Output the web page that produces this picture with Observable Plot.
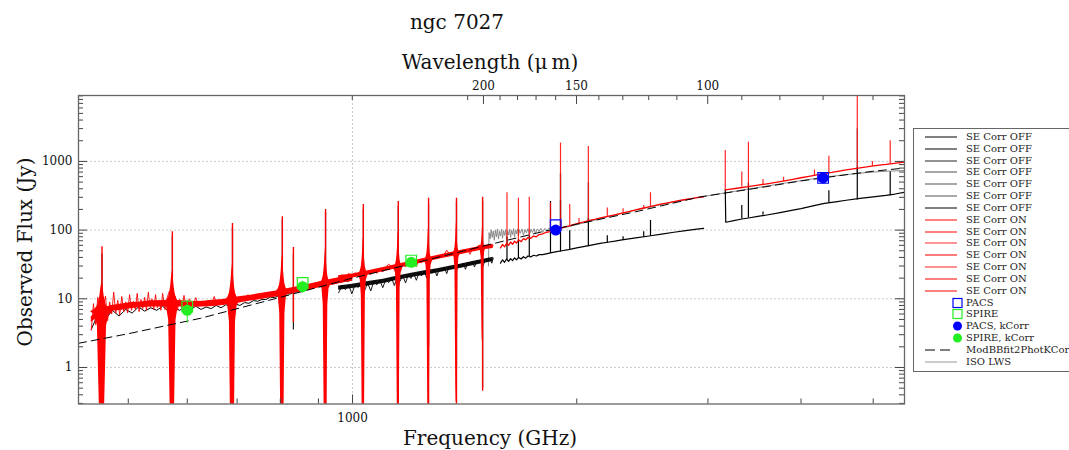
<!DOCTYPE html>
<html>
<head>
<meta charset="utf-8">
<script src="https://cdn.jsdelivr.net/npm/d3@7"></script>
<script src="https://cdn.jsdelivr.net/npm/@observablehq/plot@0.6"></script>
<style>
  html, body { margin: 0; padding: 0; background: #fff; }
  #wrap { position: relative; width: 1069px; height: 450px; font-family: "DejaVu Serif", serif; color: #111; }
  .lbl { position: absolute; white-space: nowrap; font-family: "DejaVu Serif", serif; color: #111; }
  #legend { position: absolute; left: 913px; top: 128px; width: 170px; height: 242px; border: 1px solid #666; background: #fff; overflow: hidden; }
  .row { position: absolute; left: 0; height: 12px; font-size: 10px; line-height: 12px; color: #222; white-space: nowrap; }
  .row svg { position: absolute; left: 0; top: 0; }
  .row span { position: absolute; left: 52px; top: 0; }
</style>
</head>
<body>
<div id="wrap"></div>
<script>
// ---------------- DATA ----------------
const C_UM_GHZ = 299792.458; // GHz * um

// axis ticks
const freqMajorTicks = [1000];
const freqMinorTicks = [500, 600, 700, 800, 900, 2000, 3000, 4000, 5000];
const wlMajorTicks = [200, 150, 100];
const wlMinorTicks = [300, 210, 190, 180, 170, 160, 140, 130, 120, 110, 90, 80, 70, 60];
const fluxMajorTicks = [1, 10, 100, 1000];
const fluxMinorTicks = [0.3, 0.4, 0.5, 0.6, 0.7, 0.8, 0.9, 2, 3, 4, 5, 6, 7, 8, 9,
  20, 30, 40, 50, 60, 70, 80, 90, 200, 300, 400, 500, 600, 700, 800, 900,
  2000, 3000, 4000, 5000, 6000, 7000, 8000, 9000];

// SPIRE SLW, SE Corr ON  [GHz, Jy]
const slwOn = [[446,3.5],[449,8.5],[452,4.2],[455,10.5],[458,5.0],[462,7.0],[466,11.0],[469,4.8],[472,9.0],[475,6.0],
 [478,12.5],[481,6.2],[484,9.5],[487,5.8],[490,10.8],[493,6.5],[496,9.0],[499,6.2],[502,11.5],[505,6.8],
 [508,9.2],[511,7.0],[514,12.0],[517,6.5],[520,9.8],[523,7.2],[526,10.5],[529,6.8],[532,12.5],[535,7.5],
 [538,10.0],[541,7.0],[544,11.5],[547,7.4],[550,9.6],[553,6.8],[556,12.0],[560,7.0],[564,10.5],[568,13.0],
 [574,7.5],[578,11.0],[582,6.8],[586,9.8],[590,7.2],[594,11.2],[598,7.5],[604,10.0],[610,7.8],[616,10.4],
 [622,7.8],[628,9.0],[634,8.0],[640,9.6],[646,8.0],[652,10.8],[658,8.2],[664,9.5],[670,8.3],[676,10.0],
 [682,8.5],[688,9.5],[694,9.0],[700,10.6],[706,8.9],[712,10.2],[718,9.2],[724,11.5],[730,9.6],[736,11.0],
 [742,9.8],[748,11.8],[754,10.2],[760,11.4],[766,10.5],[772,12.5],[778,10.8],[784,12.2],[790,11.2],[796,13.2],
 [802,12.0],[808,13.0],[814,12.0],[820,14.0],[826,12.6],[832,14.2],[838,13.0],[844,15.0],[850,13.6],[856,15.2],
 [862,14.0],[868,16.0],[874,14.6],[880,16.4],[886,15.0],[892,16.8],[898,15.6],[904,17.2],[910,16.0],[916,17.8],
 [922,16.4],[928,18.0],[934,16.8],[940,18.6],[946,17.2],[952,19.0],[958,17.6],[964,19.4],[970,18.0],[976,19.8],
 [982,18.6],[988,20.2],[994,19.0],[1000,20.0]];
// SLW ON core band [GHz, low Jy, high Jy]
const slwOnBand = [[446,4.5,5.5],[460,5.9,7.2],[475,6.6,8.0],[490,6.8,8.4],[505,7.2,8.8],[520,7.4,9.0],[535,7.6,9.4],
 [550,7.6,9.4],[565,7.7,9.5],[590,7.6,9.4],[610,7.5,9.1],[630,7.6,9.2],[650,7.7,9.5],[670,8.0,9.8],
 [700,8.6,10.6],[730,9.3,11.3],[760,9.9,12.1],[790,10.6,13.0],[820,11.5,14.1],[850,12.4,15.2],[880,13.5,16.5],
 [910,14.8,18.0],[940,15.8,19.4],[970,17.0,20.8],[1000,18.0,22.0]];

// SPIRE SLW, SE Corr OFF
const slwOff = [[446,3.6],[456,6.2],[466,5.0],[476,6.8],[486,5.6],[496,7.0],[506,6.2],[516,7.6],[526,6.6],[536,7.4],
 [546,6.8],[556,7.8],[566,6.6],[576,7.4],[586,6.8],[596,7.6],[606,6.9],[616,7.8],[626,7.0],[636,7.6],
 [646,7.2],[656,8.0],[666,7.4],[676,8.2],[686,7.6],[696,8.4],[706,8.0],[716,8.8],[726,8.6],[736,9.4],
 [746,9.2],[756,9.8],[766,9.8],[776,10.6],[786,10.4],[796,11.2],[806,11.0],[816,11.8],[826,11.8],[836,12.6],
 [846,12.6],[856,13.4],[866,13.4],[876,14.2],[886,14.2],[896,15.0],[906,15.0],[916,15.8],[926,15.8],[936,16.6],
 [946,16.6],[956,17.4],[966,17.4],[976,18.2],[986,18.0],[996,18.8]];

// SPIRE SSW, SE Corr ON
const sswOn = [[958,18.5],[968,22.5],[978,19.5],[988,23.5],[998,20.0],[1008,24.0],[1018,21.0],[1028,24.5],[1038,22.0],[1048,25.5],
 [1058,22.5],[1068,26.5],[1078,23.5],[1088,27.5],[1098,24.5],[1108,28.5],[1118,32.0],[1128,29.5],[1138,26.5],[1148,31],
 [1158,28],[1168,32],[1178,29],[1188,34],[1198,31],[1208,35],[1218,29.5],[1228,36.5],[1238,33.5],[1248,38],
 [1258,35],[1268,39.5],[1278,36.5],[1288,41],[1298,38],[1308,42.5],[1318,39.5],[1328,44],[1338,51],[1348,45.5],
 [1358,42.5],[1368,47],[1378,44],[1388,49],[1398,45.5],[1408,50.5],[1418,47],[1428,52],[1438,44.5],[1448,53.5],
 [1458,50],[1468,55],[1478,61],[1488,57],[1498,53],[1508,58.5],[1518,55],[1528,60],[1538,56.5],[1545,59]];
const sswOnBand = [[958,19,21.7],[1000,20,22.9],[1050,22.2,25.5],[1100,24.7,28.5],[1150,27.6,31.7],[1200,30.7,35.3],
 [1250,33.8,38.8],[1300,37.2,42.8],[1350,40.7,46.8],[1400,44.2,50.8],[1450,47.8,55],[1500,51.7,59.5],[1545,54,62]];

// SPIRE SSW, SE Corr OFF
const sswOff = [[958,12.2],[968,15.6],[978,13.6],[988,15.9],[998,11.8],[1008,16.1],[1018,14.6],[1028,17.1],[1038,13.2],[1048,17.0],
 [1058,13.0],[1068,17.9],[1078,16.0],[1088,18.7],[1098,14.5],[1108,18.9],[1118,17.2],[1128,20.3],[1138,15.6],[1148,20.6],
 [1158,18.0],[1168,21.8],[1178,17.0],[1188,22.3],[1198,19.8],[1208,23.6],[1218,18.6],[1228,23.9],[1238,21.5],[1248,25.3],
 [1258,20.0],[1268,25.9],[1278,23.5],[1288,27.0],[1298,21.5],[1308,27.6],[1318,25.3],[1328,28.8],[1338,23.2],[1348,29.9],
 [1358,27.4],[1368,31.0],[1378,25.0],[1388,32.0],[1398,29.6],[1408,33.0],[1418,26.9],[1428,34.2],[1438,31.6],[1448,35.0],
 [1458,29.0],[1468,36.0],[1478,33.6],[1488,37.0],[1498,30.5],[1508,37.9],[1518,35.5],[1528,38.7],[1538,33.0],[1545,39.2]];
const sswOffBand = [[958,13.3,15.3],[1000,14.1,16.3],[1050,15.4,17.8],[1100,16.7,19.3],[1150,18.6,21.4],[1200,20.5,23.5],
 [1250,22.1,25.5],[1300,23.7,27.3],[1350,25.8,29.8],[1400,27.9,32.1],[1450,30.2,34.8],[1500,32.6,37.5],[1545,34.9,40.1]];

// SPIRE CO / atomic lines, SE Corr ON: [GHz, peak Jy, dip Jy, continuum Jy, ringing strength]
const spireLinesOn = [[461,57,0.05,6.5,0.7],[573,95,0.05,8.5,0.8],[690,125,0.05,9.3,1],[805,157,0.05,12.5,1],
 [833,56,4.5,13.5,0],[920,200,0.05,16.5,1],[1034,235,0.05,22.5,1],[1152,260,0.05,28,1],
 [1265,290,0.05,36,0.9],[1379,290,0.05,45,0.8],[1495,300,0.45,54,0.5]];
// SPIRE lines, SE Corr OFF: [GHz, peak Jy, dip Jy]
const spireLinesOff = [[461,45,0.05],[573,80,0.05],[690,110,0.05],[805,140,0.05],[833,45,3.5],[920,180,0.05],
 [1034,200,3.7],[1152,220,5],[1265,240,2],[1379,250,1.0],[1495,260,0.5]];
// FTS sinc ringing envelope: [offset GHz, upper factor, lower factor]
const ringShape = [[-16,1.0,1.0],[-10,1.12,0.85],[-6.5,1.3,0.5],[-4.5,1.6,0.03],[-3,2.0,0.004],[-1.5,2.8,0.002],
 [0,3.5,0.002],[1.5,2.8,0.002],[3,2.0,0.004],[4.5,1.6,0.03],[6.5,1.3,0.5],[10,1.12,0.85],[16,1.0,1.0]];

// ISO LWS
const isoLws = [[1522,30],[1525,92],[1530,74],[1535,101],[1540,78],[1545,97],[1550,71],[1555,99],[1560,80],[1565,104],
 [1570,74],[1575,96],[1580,82],[1585,103],[1590,76],[1595,98],[1600,84],[1605,102],[1610,75],[1615,97],
 [1620,85],[1625,104],[1630,78],[1635,99],[1640,86],[1645,105],[1650,79],[1655,100],[1660,88],[1665,104],
 [1670,82],[1675,101],[1680,90],[1688,104],[1696,84],[1704,102],[1712,91],[1720,105],[1728,86],[1736,103],
 [1744,92],[1752,105],[1760,89],[1770,104],[1780,95],[1790,106],[1800,92],[1812,106],[1824,98],[1836,107],
 [1848,99],[1862,106],[1880,104],[1950,112],[2000,120],[2100,137],[2200,157],[2300,176],[2400,196],[2500,215],
 [2600,236],[2700,256],[2800,276],[2900,296],[3000,316],[3200,355],[3400,396],[3600,438],[3800,482],[4000,525],
 [4200,568],[4400,606],[4600,642],[4800,675],[5000,700],[5200,718],[5510,738]];
const isoLines = [[1902,105,660],[2073,135,490],[4760,680,3000]]; // [GHz, base, peak]

// PACS, SE Corr ON
const pacsOn1 = [[1580,55],[1590,62],[1600,57],[1610,64],[1620,60],[1630,67],[1640,62],[1650,69],[1660,65],[1672,72],
 [1684,68],[1696,75],[1708,72],[1720,78],[1735,76],[1750,82],[1765,80],[1780,86],[1800,88],[1820,93],
 [1840,95],[1860,100],[1880,103],[1900,106],[1930,111],[1960,116],[2000,124],[2040,131],[2080,139],[2120,145],
 [2160,152],[2200,158],[2250,167],[2300,176],[2350,186],[2400,197],[2450,208],[2500,218],[2550,229],[2600,240],
 [2650,250],[2700,260],[2750,270],[2800,279],[2850,288],[2900,296],[2960,305]];
const pacsOn2 = [[3165,385],[3200,392],[3300,410],[3400,430],[3500,450],[3600,472],[3700,495],[3800,520],[3900,548],[4000,578],
 [4100,605],[4200,635],[4300,665],[4400,690],[4500,720],[4600,752],[4700,780],[4800,805],[4900,830],[5000,860],
 [5100,885],[5200,905],[5300,930],[5400,955],[5510,980]];
// PACS, SE Corr OFF
const pacsOff1 = [[1580,33],[1590,37],[1600,34],[1610,38],[1620,35],[1630,38.5],[1640,36],[1650,39.5],[1660,37],[1672,40],
 [1684,38],[1696,41],[1708,39],[1720,42],[1735,40.5],[1750,43],[1765,42],[1780,44],[1800,44],[1826,45.5],
 [1850,47],[1880,48.5],[1910,50],[1950,52],[2000,55],[2050,58],[2100,61],[2150,64],[2200,66.5],[2250,69],
 [2300,72],[2400,77],[2500,82],[2600,87.5],[2700,93],[2800,98],[2900,103],[2960,106]];
const pacsOff2 = [[3165,390],[3170,130],[3250,137],[3331,145],[3400,150],[3500,158],[3600,166],[3750,180],[3900,195],[4000,205],
 [4150,225],[4300,245],[4450,258],[4600,272],[4800,290],[5000,305],[5200,320],[5350,335],[5510,355]];
// PACS lines [GHz, base Jy, peak Jy]
const pacsLinesOn = [[1612,64,350],[1670,72,290],[1727,79,300],[1844,98,250],[1902,106,1860],[1957,115,235],
 [2014,122,147],[2073,138,1650],[2198,158,210],[2308,178,205],[2460,210,228],[2512,220,350],
 [3165,390,1440],[3331,420,700],[3400,430,1900],[3557,460,545],[3790,515,590],[4170,625,750],
 [4360,680,1190],[4760,800,9500],[4988,860,1000],[5270,920,2000]];
const pacsLinesOff = [[1612,37,78],[1670,39,73],[1727,41,83],[1844,46,260],[1902,48,270],[1957,51,98],
 [2073,57,147],[2198,65,83],[2308,71,80],[2460,79,95],[2512,82,138],
 [3331,145,228],[3400,150,480],[3557,165,183],[4360,250,375],[4760,275,820],[5270,315,700]];

// Modified black body fit (photometry, kCorr)
const modBB = [[428.7,2.25],[500,3.1],[625,5.2],[800,10.5],[1000,20],[1250,36],[1540,63],[1800,95],[2000,122],
 [2400,185],[2931,305],[3500,410],[4000,520],[4600,640],[5000,720],[5508,800]];

// Photometry [GHz, Jy]
const pacsPhot = [[1874,118],[4283,575]];
const pacsPhotK = [[1874,100],[4283,575]];
const spirePhot = [[600,7.7],[857,17],[1199,36]];
const spirePhotK = [[600,6.8],[857,15],[1199,34]];
const spireErr = [[600,4.4,9.5],[857,12,18],[1199,30,38]];

// Legend entries
const legendItems = [
 ["SE Corr OFF","line","#000",1],["SE Corr OFF","line","#000",1],["SE Corr OFF","line","#222",1],
 ["SE Corr OFF","line","#777",1.3],["SE Corr OFF","line","#777",1.3],["SE Corr OFF","line","#555",1],
 ["SE Corr OFF","line","#000",1],
 ["SE Corr ON","line","#ff0000",1],["SE Corr ON","line","#ff0000",1],["SE Corr ON","line","#ff2a2a",1],
 ["SE Corr ON","line","#ff7a7a",2],["SE Corr ON","line","#ff6a6a",1.5],["SE Corr ON","line","#ff3a3a",1.3],
 ["SE Corr ON","line","#ff0000",1],
 ["PACS","square","#0000ff"],["SPIRE","square","#22ee22"],["PACS, kCorr","circle","#0000ff"],
 ["SPIRE, kCorr","circle","#22ee22"],["ModBBfit2PhotKCorr","dash","#000",1],["ISO LWS","line","#999",1]
];

// ---------------- BUILD ----------------
const pts = a => a.map(([f, v]) => ({f, v}));
const band = a => a.map(([f, lo, hi]) => ({f, lo, hi}));
const W = 1069, H = 450, mL = 78, mR = 165, mT = 95, mB = 46.5;
const frameW = W - mL - mR, frameH = H - mT - mB;

const ring = [];
spireLinesOn.forEach(([f, pk, dp, c, w], i) => {
  if (w > 0) ringShape.forEach(([dx, u, l]) => ring.push({line: i, f: f + dx, hi: c * (1 + (u - 1) * w), lo: c * Math.pow(l, w)}));
});

const RED = "#ff0000";
const chart = Plot.plot({
  width: W, height: H,
  marginLeft: mL, marginRight: mR, marginTop: mT, marginBottom: mB,
  style: {fontFamily: "DejaVu Serif, serif", fontSize: "12px", color: "#111", background: "#fff"},
  x: {type: "log", domain: [428.7, 5508]},
  y: {type: "log", domain: [0.294, 9110]},
  marks: [
    // grid
    Plot.ruleY(fluxMajorTicks, {stroke: "#bbb", strokeDasharray: "2,2", strokeWidth: 0.8}),
    Plot.ruleX(freqMajorTicks, {stroke: "#bbb", strokeDasharray: "2,2", strokeWidth: 0.8}),
    // ISO LWS
    Plot.line(pts(isoLws), {x: "f", y: "v", stroke: "#8a8a8a", strokeWidth: 1, clip: true}),
    Plot.ruleX(isoLines, {x: d => d[0], y1: d => d[1], y2: d => d[2], stroke: "#8a8a8a", strokeWidth: 1.5, clip: true}),
    // SE Corr OFF
    Plot.line(pts(slwOff), {x: "f", y: "v", stroke: "#000", strokeWidth: 1, clip: true}),
    Plot.areaY(band(sswOffBand), {x: "f", y1: "lo", y2: "hi", fill: "#111", clip: true}),
    Plot.line(pts(sswOff), {x: "f", y: "v", stroke: "#000", strokeWidth: 0.9, clip: true}),
    Plot.ruleX(spireLinesOff, {x: d => d[0], y1: d => d[2], y2: d => d[1], stroke: "#222", strokeWidth: 1.2, clip: true}),
    Plot.line(pts(pacsOff1), {x: "f", y: "v", stroke: "#000", strokeWidth: 1.2, clip: true}),
    Plot.line(pts(pacsOff2), {x: "f", y: "v", stroke: "#000", strokeWidth: 1.2, clip: true}),
    Plot.ruleX(pacsLinesOff, {x: d => d[0], y1: d => d[1], y2: d => d[2], stroke: "#000", strokeWidth: 1.2, clip: true}),
    // SE Corr ON
    Plot.areaY(band(slwOnBand), {x: "f", y1: "lo", y2: "hi", fill: RED, clip: true}),
    Plot.areaY(band(sswOnBand), {x: "f", y1: "lo", y2: "hi", fill: RED, clip: true}),
    Plot.areaY(ring, {x: "f", y1: "lo", y2: "hi", z: "line", fill: RED, clip: true}),
    Plot.line(pts(slwOn), {x: "f", y: "v", stroke: RED, strokeWidth: 0.9, clip: true}),
    Plot.line(pts(sswOn), {x: "f", y: "v", stroke: RED, strokeWidth: 0.9, clip: true}),
    Plot.ruleX(spireLinesOn, {x: d => d[0], y1: d => d[2], y2: d => d[1], stroke: RED, strokeWidth: 1.4, clip: true}),
    Plot.line(pts(pacsOn1), {x: "f", y: "v", stroke: RED, strokeWidth: 1.3, clip: true}),
    Plot.line(pts(pacsOn2), {x: "f", y: "v", stroke: RED, strokeWidth: 1.3, clip: true}),
    Plot.ruleX(pacsLinesOn, {x: d => d[0], y1: d => d[1], y2: d => d[2], stroke: RED, strokeWidth: 1.2, strokeOpacity: 0.85, clip: true}),
    // model
    Plot.line(pts(modBB), {x: "f", y: "v", stroke: "#000", strokeWidth: 1, strokeDasharray: "8,5", clip: true}),
    // photometry
    Plot.ruleX(spireErr, {x: d => d[0], y1: d => d[1], y2: d => d[2], stroke: "#22ee22", strokeWidth: 1}),
    Plot.dot(pts(spirePhot), {x: "f", y: "v", symbol: "square", r: 6, stroke: "#22ee22", strokeWidth: 1.2, fill: "none"}),
    Plot.dot(pts(pacsPhot), {x: "f", y: "v", symbol: "square", r: 6, stroke: "#0000ff", strokeWidth: 1.2, fill: "none"}),
    Plot.dot(pts(spirePhotK), {x: "f", y: "v", r: 5.5, fill: "#22ee22", stroke: "none"}),
    Plot.dot(pts(pacsPhotK), {x: "f", y: "v", r: 5.5, fill: "#0000ff", stroke: "none"}),
    // inward ticks: bottom (frequency)
    Plot.ruleX(freqMajorTicks, {stroke: "#444", insetTop: frameH - 9}),
    Plot.ruleX(freqMinorTicks, {stroke: "#444", insetTop: frameH - 5}),
    // top (wavelength)
    Plot.ruleX(wlMajorTicks.map(l => C_UM_GHZ / l), {stroke: "#444", insetBottom: frameH - 9}),
    Plot.ruleX(wlMinorTicks.map(l => C_UM_GHZ / l), {stroke: "#444", insetBottom: frameH - 5}),
    // left / right (flux)
    Plot.ruleY(fluxMajorTicks, {stroke: "#444", insetRight: frameW - 9}),
    Plot.ruleY(fluxMinorTicks, {stroke: "#444", insetRight: frameW - 5}),
    Plot.ruleY(fluxMajorTicks, {stroke: "#444", insetLeft: frameW - 9}),
    Plot.ruleY(fluxMinorTicks, {stroke: "#444", insetLeft: frameW - 5}),
    Plot.frame({stroke: "#666", strokeWidth: 1.3}),
    // tick labels
    Plot.axisY({anchor: "left", ticks: fluxMajorTicks, tickSize: 0, tickPadding: 6, tickFormat: d => String(d), label: null}),
    Plot.axisX({anchor: "bottom", ticks: freqMajorTicks, tickSize: 0, tickPadding: 9, tickFormat: d => String(d), label: null}),
    Plot.axisX({anchor: "top", ticks: wlMajorTicks.map(l => C_UM_GHZ / l), tickSize: 0, tickPadding: 6,
      tickFormat: f => String(Math.round(C_UM_GHZ / f)), label: null})
  ]
});

const wrap = document.getElementById("wrap");
wrap.appendChild(chart);

function addLabel(text, x, y, size, rotate) {
  const d = document.createElement("div");
  d.className = "lbl";
  d.textContent = text;
  d.style.fontSize = size + "px";
  d.style.left = x + "px";
  d.style.top = y + "px";
  d.style.transform = "translate(-50%,-50%)" + (rotate ? " rotate(-90deg)" : "");
  wrap.appendChild(d);
}
addLabel("ngc 7027", 457, 22, 20);
addLabel("Wavelength (\u03bc\u2009m)", 490, 62, 20);
addLabel("Frequency (GHz)", 490, 438, 20);
addLabel("Observed Flux (Jy)", 25, 252, 20, true);

// legend
const leg = document.createElement("div");
leg.id = "legend";
legendItems.forEach(([label, kind, color, sw], i) => {
  const row = document.createElement("div");
  row.className = "row";
  row.style.top = (136 + i * 11.83 - 128 - 6) + "px";
  row.style.width = "170px";
  let sym = "";
  if (kind === "line") sym = `<line x1="11" x2="43" y1="6" y2="6" stroke="${color}" stroke-width="${sw}"/>`;
  else if (kind === "dash") sym = `<line x1="11" x2="39" y1="6" y2="6" stroke="${color}" stroke-width="1" stroke-dasharray="10,5"/>`;
  else if (kind === "square") sym = `<rect x="39" y="1.5" width="9" height="9" fill="none" stroke="${color}" stroke-width="1.2"/>`;
  else if (kind === "circle") sym = `<circle cx="43.5" cy="6" r="4.5" fill="${color}"/>`;
  row.innerHTML = `<svg width="52" height="12">${sym}</svg><span>${label}</span>`;
  leg.appendChild(row);
});
wrap.appendChild(leg);
</script>
</body>
</html>
